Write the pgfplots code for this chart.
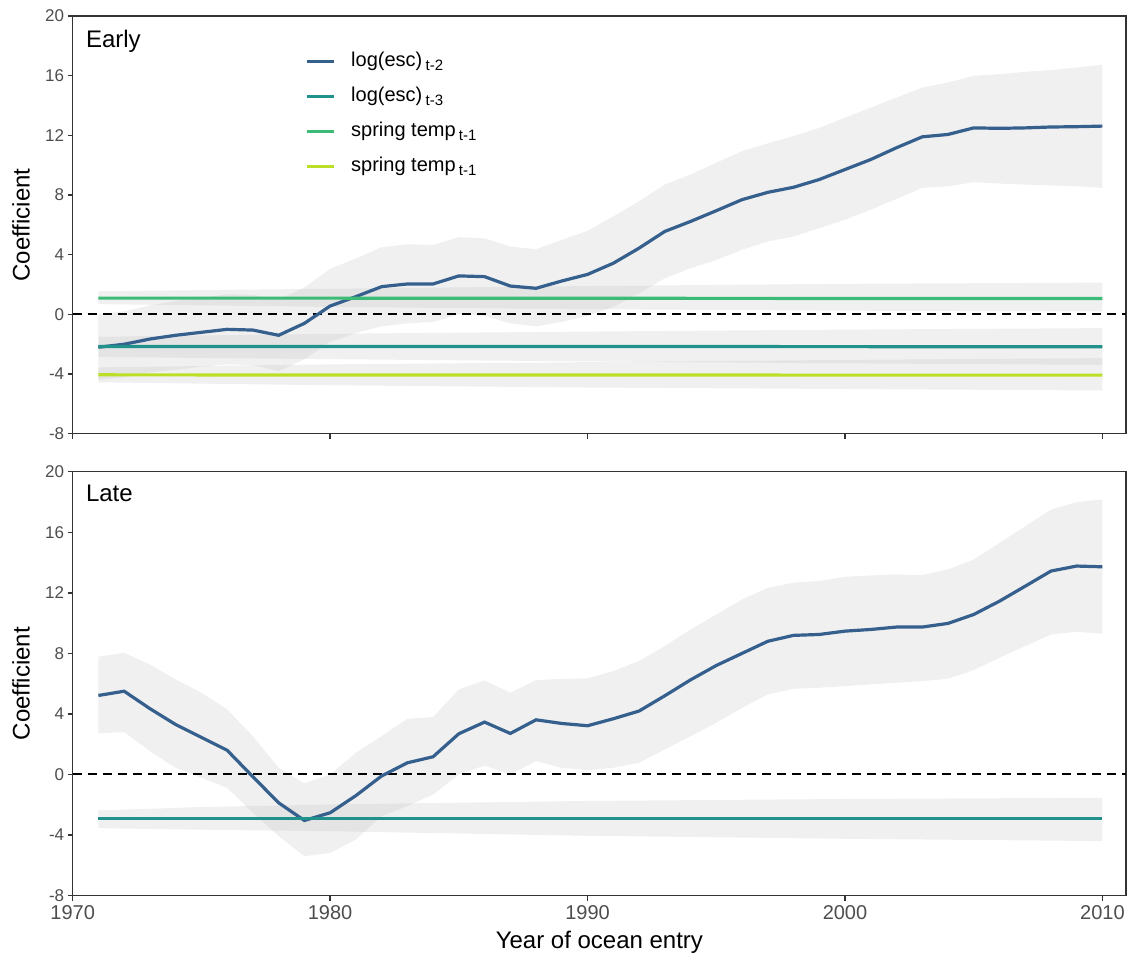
\documentclass[border=0pt]{standalone}
\usepackage{fontspec}
\setmainfont{Liberation Sans}
\usepackage{pgfplots}
\pgfplotsset{compat=1.18}
\usepackage{pgfplotstable}
\usepgfplotslibrary{fillbetween}

\definecolor{cblue}{HTML}{355F8D}
\definecolor{cteal}{HTML}{21918C}
\definecolor{cgreen}{HTML}{3BBB75}
\definecolor{cyel}{HTML}{BBDF27}
\definecolor{bandc}{RGB}{179,179,179}
\definecolor{ticklab}{HTML}{4D4D4D}
\definecolor{axcol}{HTML}{333333}

% Early run
\pgfplotstableread{
year mean lo hi
1971 -2.20 -4.40 0.00
1972 -2.00 -4.20 0.20
1973 -1.65 -3.90 0.60
1974 -1.40 -3.70 0.90
1975 -1.20 -3.50 1.10
1976 -1.00 -3.35 1.35
1977 -1.05 -3.40 1.30
1978 -1.40 -3.80 1.00
1979 -0.60 -3.00 1.80
1980 0.56 -1.84 3.05
1981 1.19 -1.25 3.75
1982 1.86 -0.80 4.50
1983 2.04 -0.60 4.70
1984 2.04 -0.50 4.65
1985 2.58 0.00 5.18
1986 2.53 -0.10 5.10
1987 1.90 -0.60 4.55
1988 1.75 -0.80 4.37
1989 2.24 -0.50 5.00
1990 2.68 -0.10 5.60
1991 3.43 0.50 6.57
1992 4.44 1.41 7.58
1993 5.56 2.42 8.70
1994 6.23 3.09 9.37
1995 6.95 3.65 10.16
1996 7.69 4.33 10.94
1997 8.18 4.89 11.46
1998 8.52 5.22 11.95
1999 9.04 5.78 12.50
2000 9.71 6.35 13.18
2001 10.38 7.02 13.86
2002 11.17 7.74 14.53
2003 11.90 8.48 15.20
2004 12.06 8.59 15.54
2005 12.50 8.86 15.99
2006 12.47 8.77 16.10
2007 12.50 8.70 16.26
2008 12.56 8.65 16.37
2009 12.58 8.59 16.55
2010 12.62 8.48 16.73
}\earlyesc

\pgfplotstableread{
year mean lo hi
1971 -2.15 -2.85 -1.50
1980 -2.15 -3.00 -1.30
1990 -2.15 -3.15 -1.15
2000 -2.16 -3.28 -1.02
2010 -2.17 -3.38 -0.92
}\earlyescb

\pgfplotstableread{
year mean lo hi
1971 1.09 0.69 1.55
1980 1.09 0.50 1.72
1990 1.08 0.35 1.90
2000 1.07 0.25 2.05
2010 1.06 0.20 2.13
}\earlytempa

\pgfplotstableread{
year mean lo hi
1971 -4.05 -4.55 -3.55
1980 -4.06 -4.75 -3.35
1990 -4.06 -4.90 -3.20
2000 -4.07 -5.00 -3.05
2010 -4.07 -5.10 -2.93
}\earlytempb

% Late run
\pgfplotstableread{
year mean lo hi
1971 5.22 2.71 7.78
1972 5.50 2.80 8.04
1973 4.35 1.54 7.27
1974 3.30 0.44 6.28
1975 2.45 -0.22 5.40
1976 1.60 -0.88 4.30
1977 -0.15 -2.53 2.53
1978 -1.87 -4.07 0.44
1979 -3.04 -5.40 -0.59
1980 -2.53 -5.18 0.00
1981 -1.40 -4.30 1.43
1982 -0.10 -2.75 2.53
1983 0.77 -2.09 3.68
1984 1.17 -1.32 3.79
1985 2.69 0.00 5.62
1986 3.46 0.59 6.21
1987 2.71 0.00 5.40
1988 3.61 0.88 6.23
1989 3.37 0.44 6.32
1990 3.22 0.28 6.35
1991 3.68 0.44 6.83
1992 4.19 0.77 7.49
1993 5.20 1.65 8.48
1994 6.25 2.53 9.58
1995 7.20 3.41 10.57
1996 8.00 4.40 11.56
1997 8.80 5.29 12.33
1998 9.19 5.66 12.67
1999 9.25 5.73 12.78
2000 9.47 5.84 13.06
2001 9.58 5.95 13.15
2002 9.74 6.06 13.22
2003 9.74 6.17 13.17
2004 9.98 6.32 13.55
2005 10.57 6.90 14.20
2006 11.45 7.71 15.30
2007 12.44 8.48 16.40
2008 13.44 9.25 17.50
2009 13.77 9.43 18.00
2010 13.72 9.30 18.17
}\lateesc

\pgfplotstableread{
year mean lo hi
1971 -2.93 -3.55 -2.38
1975 -2.93 -3.65 -2.15
1980 -2.93 -3.75 -1.98
1990 -2.93 -4.05 -1.75
2000 -2.93 -4.25 -1.62
2010 -2.93 -4.40 -1.54
}\lateescb

\pgfplotsset{
  panel/.style={
    scale only axis, width=1054pt,
    xmin=1970, xmax=2010.92, ymin=-8, ymax=20,
    xtick={1970,1980,1990,2000,2010},
    ytick={-8,-4,0,4,8,12,16,20},
    yticklabels={-8,-4,0,4,8,12,16,20},
    tick align=outside, xtick pos=bottom, ytick pos=left,
    major tick length=5pt,
    axis line style={axcol, line width=1.4pt},
    tick style={axcol, line width=1.4pt},
    yticklabel style={font=\fontsize{17}{20}\selectfont, text=ticklab},
    xticklabel style={font=\fontsize{20}{24}\selectfont, text=ticklab, yshift=-1pt},
    ylabel={Coefficient},
    ylabel style={font=\fontsize{24}{28}\selectfont, at={(rel axis cs:-0.0405,0.5)}, anchor=south, inner sep=0pt},
  },
  bandsty/.style={fill=bandc, fill opacity=0.2, draw=none},
  zeroline/.style={black, line width=2pt, dash pattern=on 9pt off 6pt, forget plot},
  dl/.style={line width=3.2pt},
}

\newcommand{\band}[2]{%
  \addplot[name path=U#2, draw=none, forget plot] table[x=year, y=hi]{#1};
  \addplot[name path=L#2, draw=none, forget plot] table[x=year, y=lo]{#1};
  \addplot[bandsty, forget plot] fill between[of=U#2 and L#2];
}

\begin{document}
\begin{tikzpicture}
\path (0,0) rectangle (1128pt,955pt);

% ---------- Early ----------
\begin{axis}[panel, at={(72.7pt,521pt)}, anchor=south west, height=418pt,
  xticklabels={},
  legend cell align=left,
  legend style={at={(rel axis cs:0.2204,0.9146)}, anchor=north west, draw=none, fill=none,
    inner sep=0pt, font=\fontsize{20}{24}\selectfont, row sep=15pt, column sep=16pt,
    nodes={anchor=base west, inner sep=0pt, text height=15pt, text depth=5pt}},
  legend image code/.code={\draw[#1] (0pt,5.7pt) -- (27pt,5.7pt);},
]
\band{\earlyesc}{a}
\band{\earlyescb}{b}
\band{\earlytempa}{c}
\band{\earlytempb}{d}
\addplot[zeroline] coordinates {(1970,0) (2010.92,0)};
\addplot[cblue, dl] table[x=year, y=mean]{\earlyesc};
\addlegendentry{log(esc)\,\raisebox{-3.5pt}{\fontsize{15}{15}\selectfont t-2}}
\addplot[cteal, dl] table[x=year, y=mean]{\earlyescb};
\addlegendentry{log(esc)\,\raisebox{-3.5pt}{\fontsize{15}{15}\selectfont t-3}}
\addplot[cgreen, dl] table[x=year, y=mean]{\earlytempa};
\addlegendentry{spring temp\,\raisebox{-3.5pt}{\fontsize{15}{15}\selectfont t-1}}
\addplot[cyel, dl] table[x=year, y=mean]{\earlytempb};
\addlegendentry{spring temp\,\raisebox{-3.5pt}{\fontsize{15}{15}\selectfont t-1}}
\node[anchor=north west, inner sep=0pt, font=\fontsize{24}{28}\selectfont] at (rel axis cs:0.0125,0.9665) {Early};
\end{axis}

% ---------- Late ----------
\begin{axis}[panel, at={(72.7pt,59pt)}, anchor=south west, height=424pt,
  xticklabels={1970,1980,1990,2000,2010},
  xlabel={Year of ocean entry},
  xlabel style={font=\fontsize{24}{28}\selectfont, at={(rel axis cs:0.5,0)}, yshift=-35pt, anchor=north, inner sep=0pt},
]
\band{\lateesc}{e}
\band{\lateescb}{f}
\addplot[zeroline] coordinates {(1970,0) (2010.92,0)};
\addplot[cblue, dl] table[x=year, y=mean]{\lateesc};
\addplot[cteal, dl] table[x=year, y=mean]{\lateescb};
\node[anchor=north west, inner sep=0pt, font=\fontsize{24}{28}\selectfont] at (rel axis cs:0.0125,0.9693) {Late};
\end{axis}
\end{tikzpicture}
\end{document}
